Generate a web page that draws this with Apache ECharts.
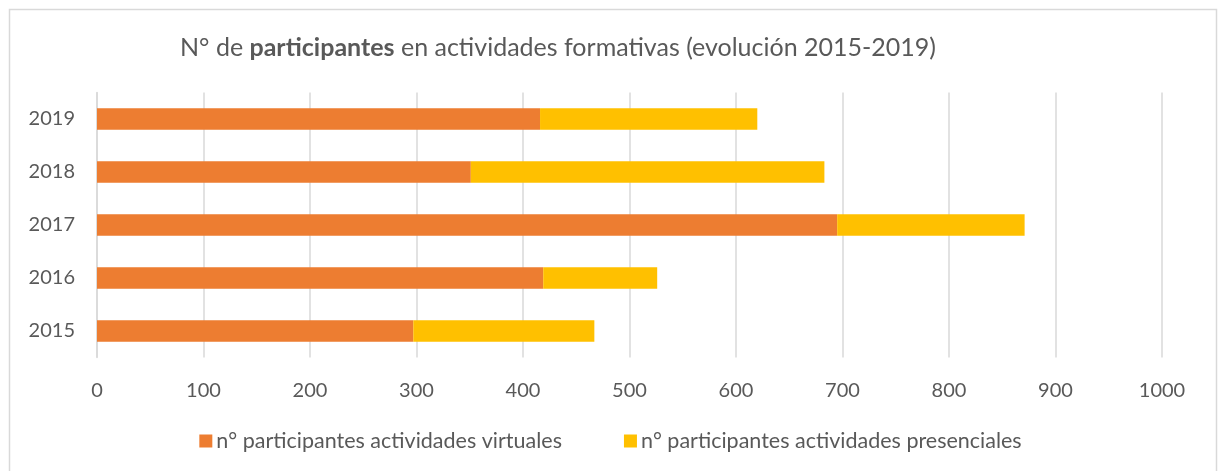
<!DOCTYPE html>
<html>
<head>
<meta charset="utf-8">
<script src="https://cdn.jsdelivr.net/npm/echarts@6/dist/echarts.min.js"></script>
<style>
html,body{margin:0;padding:0;background:#fff;}
#chart{width:1221px;height:471px;}
</style>
</head>
<body>
<div id="chart"></div>
<script>
const categories = ['2015', '2016', '2017', '2018', '2019'];
const virtuales = [297, 419, 695, 351, 416];
const presenciales = [170, 107, 176, 332, 204];
const xTicks = [0, 100, 200, 300, 400, 500, 600, 700, 800, 900, 1000];
const seriesNames = ['n° participantes actividades virtuales', 'n° participantes actividades presenciales'];

const FONT = 'Lato, "Open Sans", sans-serif';
const chart = echarts.init(document.getElementById('chart'));
chart.setOption({
  animation: false,
  textStyle: { fontFamily: FONT },
  title: {
    text: 'N° de {b|participantes} en actividades formativas (evolución 2015-2019)',
    left: 553, top: 30, textAlign: 'center',
    textStyle: {
      fontFamily: FONT, fontSize: 25, fontWeight: 'normal', color: '#595959',
      rich: { b: { fontFamily: FONT, fontSize: 25, fontWeight: 'bold', color: '#595959' } }
    }
  },
  graphic: [{
    type: 'rect', silent: true,
    shape: { x: 9.5, y: 9.5, width: 1207, height: 480 },
    style: { fill: 'none', stroke: '#d9d9d9', lineWidth: 1.5 }
  }],
  legend: {
    top: 425, left: 'center', itemGap: 62, itemWidth: 13, itemHeight: 13,
    icon: 'rect',
    textStyle: { fontFamily: FONT, fontSize: 21.5, color: '#595959', padding: [0, 0, 0, -1] },
    data: seriesNames
  },
  grid: { left: 97, right: 59, top: 92.5, bottom: 113.5 },
  xAxis: {
    type: 'value', min: xTicks[0], max: xTicks[xTicks.length - 1], interval: 100,
    axisLine: { show: false }, axisTick: { show: false },
    splitLine: { lineStyle: { color: '#d9d9d9', width: 1.5 } },
    axisLabel: { fontFamily: FONT, fontSize: 20, color: '#595959', margin: 23, formatter: v => String(v) }
  },
  yAxis: {
    type: 'category', data: categories,
    axisLine: { show: true, lineStyle: { color: '#d9d9d9', width: 1.5 } },
    axisTick: { show: false },
    axisLabel: { fontFamily: FONT, fontSize: 20, color: '#595959', margin: 22 }
  },
  series: [
    { name: seriesNames[0], type: 'bar', stack: 't', data: virtuales, barWidth: '41%', itemStyle: { color: '#ED7D31' } },
    { name: seriesNames[1], type: 'bar', stack: 't', data: presenciales, barWidth: '41%', itemStyle: { color: '#FFC000' } }
  ]
});
</script>
</body>
</html>
